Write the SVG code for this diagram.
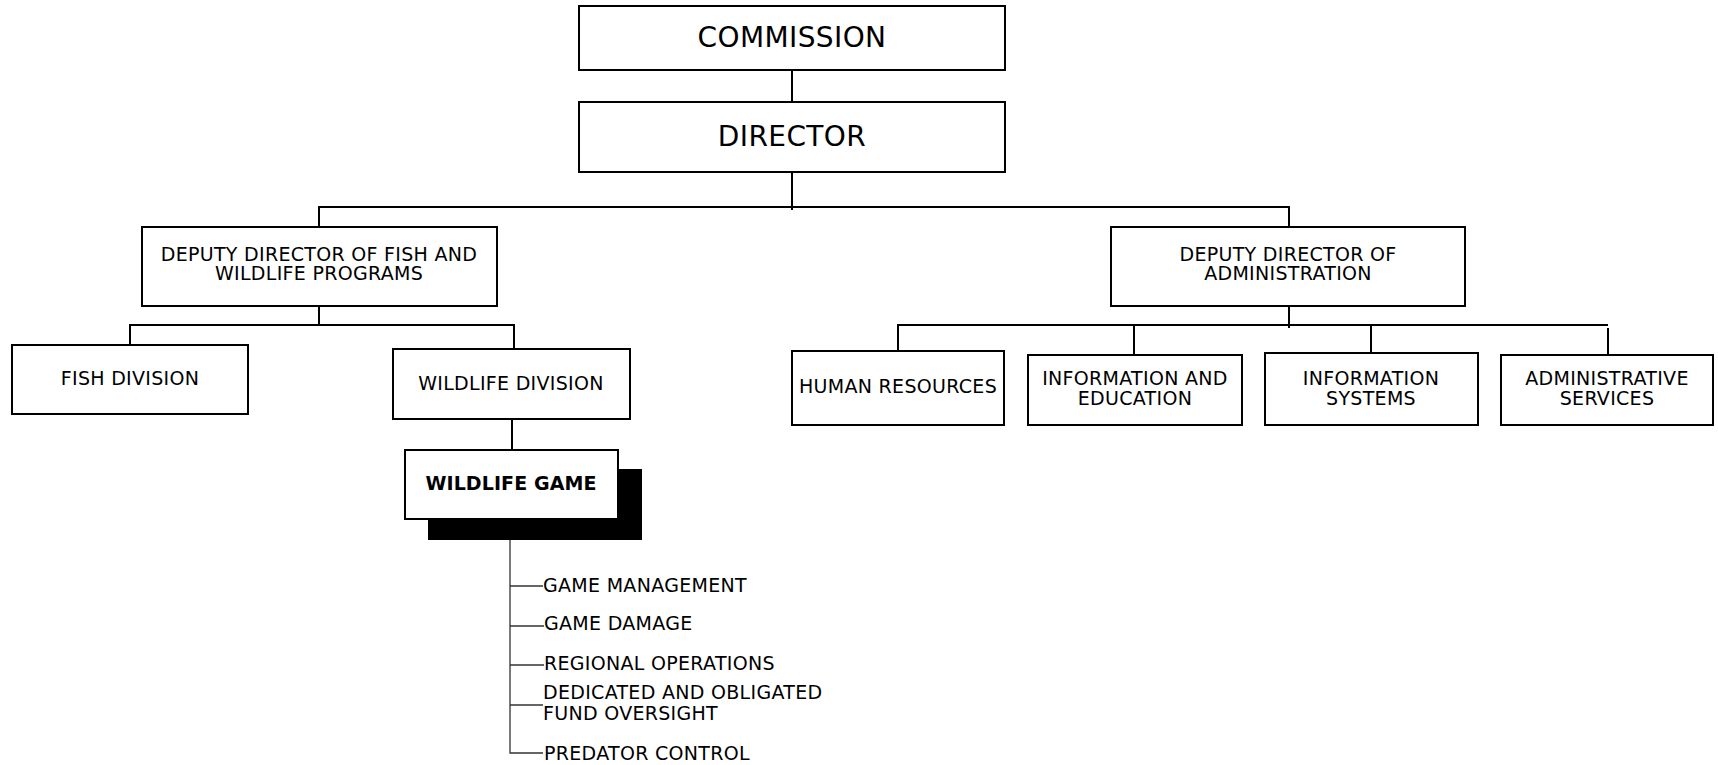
<svg xmlns="http://www.w3.org/2000/svg" width="1718" height="765" viewBox="0 0 1718 765">
<style>
.box{fill:#fff;stroke:#000;stroke-width:2}
.t{font-family:"DejaVu Sans","Verdana",sans-serif;font-size:19px;fill:#000;text-anchor:middle;letter-spacing:0.3px}
.big{font-size:28px;letter-spacing:0.4px}
.b{font-weight:bold;letter-spacing:0.1px}
.l{text-anchor:start}
.c{stroke:#000;stroke-width:2;fill:none}
.thin{stroke:#333;stroke-width:1.3;fill:none}
</style>
<rect width="1718" height="765" fill="#fff"/>
<g id="connectors">
<line class="c" x1="792" y1="70" x2="792" y2="102"/>
<line class="c" x1="792" y1="172" x2="792" y2="210"/>
<line class="c" x1="319" y1="207" x2="1289" y2="207"/>
<line class="c" x1="319" y1="206" x2="319" y2="227"/>
<line class="c" x1="1289" y1="206" x2="1289" y2="227"/>
<line class="c" x1="319" y1="306" x2="319" y2="325"/>
<line class="c" x1="130" y1="325" x2="514" y2="325"/>
<line class="c" x1="130" y1="324" x2="130" y2="345"/>
<line class="c" x1="514" y1="324" x2="514" y2="349"/>
<line class="c" x1="512" y1="419" x2="512" y2="450"/>
<line class="c" x1="1289" y1="306" x2="1289" y2="328"/>
<line class="c" x1="898" y1="325" x2="1608" y2="325"/>
<line class="c" x1="898" y1="324" x2="898" y2="351"/>
<line class="c" x1="1134" y1="324" x2="1134" y2="355"/>
<line class="c" x1="1371" y1="324" x2="1371" y2="353"/>
<line class="c" x1="1608" y1="328" x2="1608" y2="355"/>
<polyline class="thin" points="510,540 510,753 543,753"/>
<line class="thin" x1="510" y1="586" x2="543" y2="586"/>
<line class="thin" x1="510" y1="626" x2="544" y2="626"/>
<line class="thin" x1="510" y1="665" x2="544" y2="665"/>
<line class="thin" x1="510" y1="705" x2="543" y2="705"/>
</g>
<g id="commission">
<rect class="box" x="579" y="6" width="426" height="64"/>
<text class="t big" x="792" y="47">COMMISSION</text>
</g>
<g id="director">
<rect class="box" x="579" y="102" width="426" height="70"/>
<text class="t big" x="792" y="146">DIRECTOR</text>
</g>
<g id="deputy-fish-wildlife">
<rect class="box" x="142" y="227" width="355" height="79"/>
<text class="t" x="319" y="261">DEPUTY DIRECTOR OF FISH AND</text>
<text class="t" x="319" y="280">WILDLIFE PROGRAMS</text>
</g>
<g id="deputy-administration">
<rect class="box" x="1111" y="227" width="354" height="79"/>
<text class="t" x="1288" y="261">DEPUTY DIRECTOR OF</text>
<text class="t" x="1288" y="280">ADMINISTRATION</text>
</g>
<g id="fish-division">
<rect class="box" x="12" y="345" width="236" height="69"/>
<text class="t" x="130" y="385">FISH DIVISION</text>
</g>
<g id="wildlife-division">
<rect class="box" x="393" y="349" width="237" height="70"/>
<text class="t" x="511" y="390">WILDLIFE DIVISION</text>
</g>
<g id="wildlife-game">
<rect x="428" y="469" width="214" height="71" fill="#000"/>
<rect class="box" x="405" y="450" width="213" height="69"/>
<text class="t b" x="511" y="490">WILDLIFE GAME</text>
</g>
<g id="human-resources">
<rect class="box" x="792" y="351" width="212" height="74"/>
<text class="t" x="898" y="393">HUMAN RESOURCES</text>
</g>
<g id="information-education">
<rect class="box" x="1028" y="355" width="214" height="70"/>
<text class="t" x="1135" y="385">INFORMATION AND</text>
<text class="t" x="1135" y="405">EDUCATION</text>
</g>
<g id="information-systems">
<rect class="box" x="1265" y="353" width="213" height="72"/>
<text class="t" x="1371" y="385">INFORMATION</text>
<text class="t" x="1371" y="405">SYSTEMS</text>
</g>
<g id="administrative-services">
<rect class="box" x="1501" y="355" width="212" height="70"/>
<text class="t" x="1607" y="385">ADMINISTRATIVE</text>
<text class="t" x="1607" y="405">SERVICES</text>
</g>
<g id="game-items">
<text class="t l" x="543" y="592">GAME MANAGEMENT</text>
<text class="t l" x="544" y="630">GAME DAMAGE</text>
<text class="t l" x="544" y="670">REGIONAL OPERATIONS</text>
<text class="t l" x="543" y="699">DEDICATED AND OBLIGATED</text>
<text class="t l" x="543" y="720">FUND OVERSIGHT</text>
<text class="t l" x="544" y="760">PREDATOR CONTROL</text>
</g>
</svg>
